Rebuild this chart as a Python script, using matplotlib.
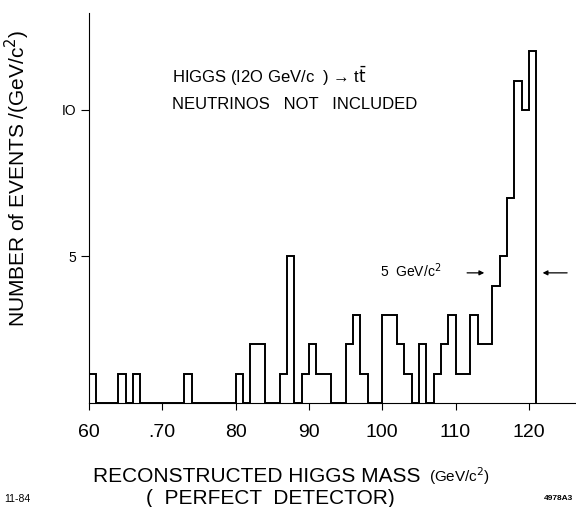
import matplotlib
matplotlib.use("Agg")
import matplotlib.pyplot as plt
import numpy as np

plt.rcParams['font.family'] = ['Liberation Sans', 'DejaVu Sans']

# 1 GeV bins starting at 60 GeV
bin_low = 60
bin_width = 1
counts = [1, 0, 0, 0, 1, 0, 1, 0, 0, 0,
          0, 0, 0, 1, 0, 0, 0, 0, 0, 0,
          1, 0, 2, 2, 0, 0, 1, 5, 0, 1,
          2, 1, 1, 0, 0, 2, 3, 1, 0, 0,
          3, 3, 2, 1, 0, 2, 0, 1, 2, 3,
          1, 1, 3, 2, 2, 4, 5, 7, 11, 10,
          12]
xticks = [60, 70, 80, 90, 100, 110, 120]
xticklabels = ["60", ".70", "80", "90", "100", "110", "120"]
yticks = [5, 10]
yticklabels = ["5", "IO"]

edges = bin_low + bin_width * np.arange(len(counts) + 1)

fig = plt.figure(figsize=(5.76, 5.07), dpi=100)
ax = fig.add_axes([0.1545, 0.2051, 0.8438, 0.769])

ax.stairs(counts, edges, baseline=0, fill=False, color='black', lw=1.4)

ax.set_xlim(60, 126.3)
ax.set_ylim(0, 13.3)
ax.spines['top'].set_visible(False)
ax.spines['right'].set_visible(False)
for s in ['left', 'bottom']:
    ax.spines[s].set_linewidth(0.8)

ax.set_xticks(xticks)
ax.set_xticklabels(xticklabels, fontsize=14)
ax.set_yticks(yticks)
ax.set_yticklabels(yticklabels, fontsize=10)
ax.tick_params(axis='x', direction='out', length=5, width=0.8, pad=10)
ax.tick_params(axis='y', direction='out', length=6, width=0.8, pad=3)

ax.set_ylabel("NUMBER of EVENTS /(GeV/c$^2$)", fontsize=15)
ax.yaxis.set_label_coords(-0.118, 0.577)

# annotations inside the plot
ax.text(71.3, 11.16, "HIGGS (I2O GeV/c  ) \u2192 t$\\bar{\\mathrm{t}}$",
        fontsize=12, va='center', ha='left')
ax.text(71.3, 10.2, "NEUTRINOS   NOT   INCLUDED",
        fontsize=12, va='center', ha='left')
ax.text(99.7, 4.5, "5  GeV/c$^2$", fontsize=10, va='center', ha='left')
ax.annotate("", xy=(114.3, 4.44), xytext=(111.2, 4.44),
            arrowprops=dict(arrowstyle='-|>', color='black', lw=0.9, mutation_scale=7))
ax.annotate("", xy=(121.5, 4.44), xytext=(125.6, 4.44),
            arrowprops=dict(arrowstyle='-|>', color='black', lw=0.9, mutation_scale=7))

fig.text(0.161, 0.049, "RECONSTRUCTED HIGGS MASS", fontsize=15, va='baseline', ha='left')
fig.text(0.745, 0.049, "(GeV/c$^2$)", fontsize=11, va='baseline', ha='left')
fig.text(0.469, 0.016, "(  PERFECT  DETECTOR)", fontsize=15, va='center', ha='center')
fig.text(0.007, 0.016, "11-84", fontsize=7.5, va='center', ha='left')
fig.text(0.995, 0.016, "4978A3", fontsize=6, va='center', ha='right', weight='bold')

fig.savefig("out.png", dpi=100)
